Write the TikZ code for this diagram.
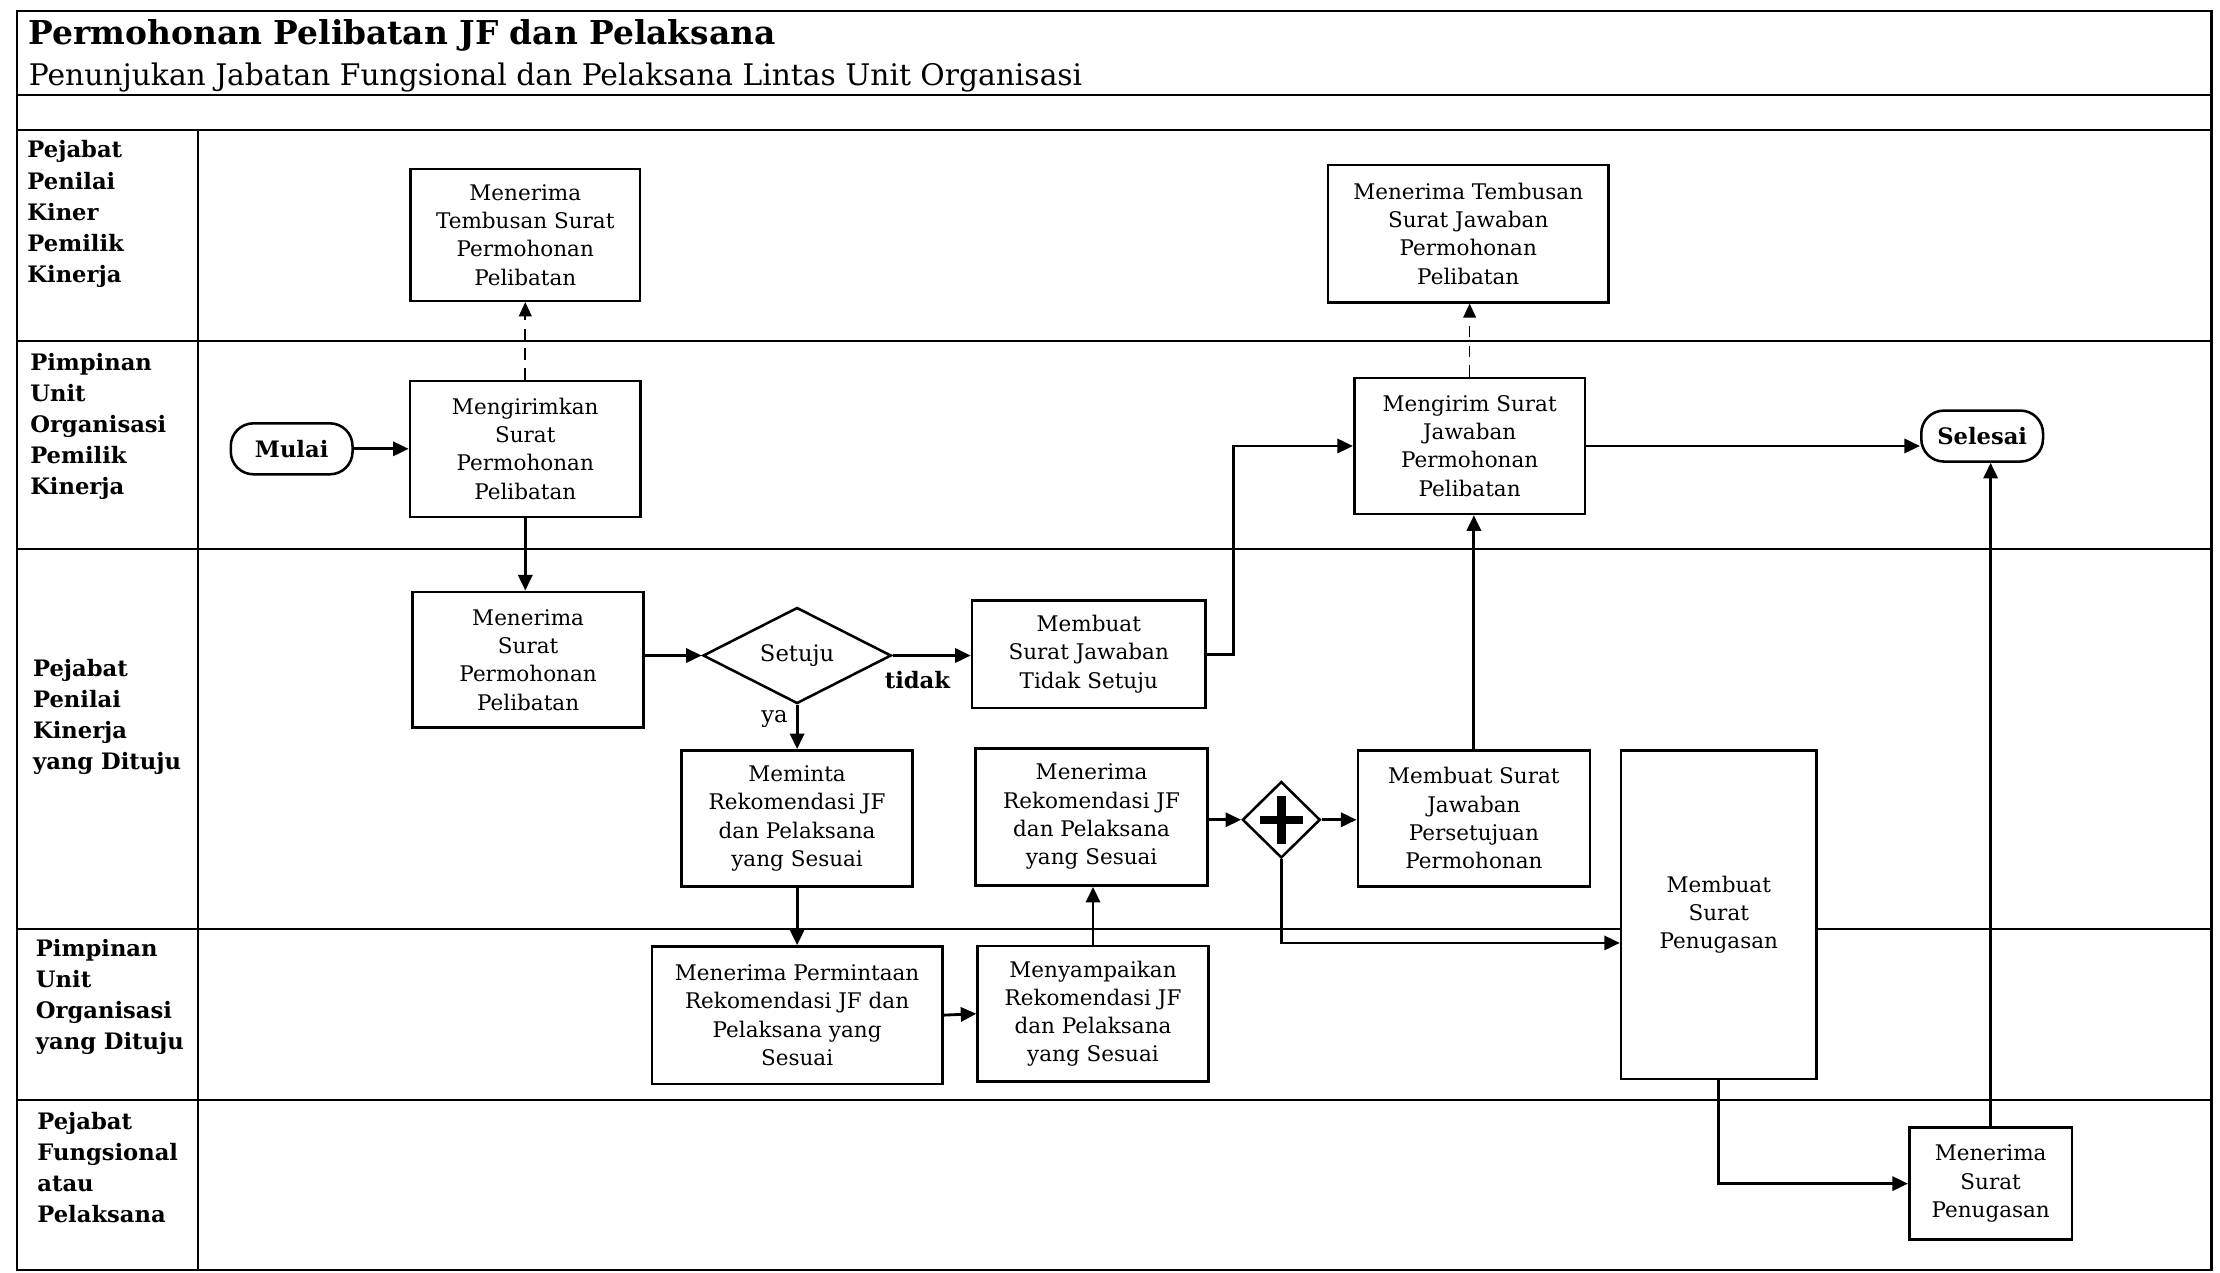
\documentclass[tikz,border=0pt]{standalone}
\usepackage{fontspec}
\setmainfont{DejaVu Serif}
\usetikzlibrary{arrows.meta,shapes.geometric}
\begin{document}
\begin{tikzpicture}[x=0.5pt,y=-0.5pt,
  box/.style={draw,line width=0.9pt,fill=white,align=center,inner sep=1pt,
    font=\fontsize{7.6}{10}\selectfont},
  term/.style={draw,line width=0.9pt,rounded corners=8pt,fill=white,inner sep=1pt,
    font=\fontsize{8}{10}\selectfont\bfseries,minimum width=43pt,minimum height=18pt},
  decide/.style={draw,diamond,line width=0.9pt,fill=white,inner sep=0pt,
    font=\fontsize{8}{10}\selectfont},
  lanelbl/.style={align=left,anchor=north west,inner sep=0pt,
    font=\fontsize{8}{11}\selectfont\bfseries},
  lane/.style={line width=0.8pt},
  arr/.style={line width=1pt,-{Triangle[length=5.5pt,width=5pt]}},
  dasharr/.style={line width=0.6pt,dash pattern=on 4pt off 3pt,-{Triangle[length=5pt,width=4.5pt]}},
  flowlbl/.style={inner sep=0pt,font=\fontsize{8}{10}\selectfont}
]
\useasboundingbox (0,0) rectangle (1568,899);

% frame, title block and swimlanes
\draw[lane] (12,8) rectangle (1562,897);
\node[anchor=west,inner sep=0pt,font=\fontsize{11.6}{13}\selectfont\bfseries] (title) at (20,25)
  {Permohonan Pelibatan JF dan Pelaksana};
\node[anchor=west,inner sep=0pt,font=\fontsize{10.5}{12}\selectfont] (subtitle) at (20,55)
  {Penunjukan Jabatan Fungsional dan Pelaksana Lintas Unit Organisasi};
\draw[lane] (12,67) -- (1562,67);
\draw[lane] (12,92) -- (1562,92);
\foreach \yy in {241,388,656,777} \draw[lane] (12,\yy) -- (1562,\yy);
\draw[lane] (140,92) -- (140,897);

\node[lanelbl] (l1) at (19,99)  {Pejabat\\Penilai\\Kiner\\Pemilik\\Kinerja};
\node[lanelbl] (l2) at (21,249) {Pimpinan\\Unit\\Organisasi\\Pemilik\\Kinerja};
\node[lanelbl] (l3) at (23,465) {Pejabat\\Penilai\\Kinerja\\yang Dituju};
\node[lanelbl] (l4) at (25,663) {Pimpinan\\Unit\\Organisasi\\yang Dituju};
\node[lanelbl] (l5) at (26,785) {Pejabat\\Fungsional\\atau\\Pelaksana};

% process steps
\node[box,minimum width=81pt,minimum height=46.5pt] (a1) at (371,166)
  {Menerima\\Tembusan Surat\\Permohonan\\Pelibatan};
\node[box,minimum width=99pt,minimum height=48.5pt] (a2) at (1037,165)
  {Menerima Tembusan\\Surat Jawaban\\Permohonan\\Pelibatan};
\node[term] (mulai) at (206,317) {Mulai};
\node[box,minimum width=81.5pt,minimum height=48pt] (b1) at (371,317)
  {Mengirimkan\\Surat\\Permohonan\\Pelibatan};
\node[box,minimum width=81.5pt,minimum height=48pt] (b2) at (1038,315)
  {Mengirim Surat\\Jawaban\\Permohonan\\Pelibatan};
\node[term] (selesai) at (1400,308) {Selesai};

\node[box,minimum width=81.5pt,minimum height=48pt] (c1) at (373,466)
  {Menerima\\Surat\\Permohonan\\Pelibatan};
\node[decide,minimum width=66.5pt,minimum height=30pt] (setuju) at (563,463) {Setuju};
\node[box,minimum width=82.5pt,minimum height=38pt] (c2) at (769,462)
  {Membuat\\Surat Jawaban\\Tidak Setuju};
\node[box,minimum width=81.5pt,minimum height=48pt] (c3) at (563,578)
  {Meminta\\Rekomendasi JF\\dan Pelaksana\\yang Sesuai};
\node[box,minimum width=82pt,minimum height=48.5pt] (c4) at (771,577)
  {Menerima\\Rekomendasi JF\\dan Pelaksana\\yang Sesuai};
\node[decide,minimum width=27.5pt,minimum height=27pt] (gw) at (905,579) {};
\draw[line width=3pt] ([yshift=-8.5pt]gw.center) -- ([yshift=8.5pt]gw.center);
\draw[line width=3pt] ([xshift=-7.5pt]gw.center) -- ([xshift=7.5pt]gw.center);
\node[box,minimum width=82pt,minimum height=48pt] (c5) at (1041,578)
  {Membuat Surat\\Jawaban\\Persetujuan\\Permohonan};
\node[box,minimum width=69pt,minimum height=116pt] (big) at (1214,646)
  {Membuat\\Surat\\Penugasan};

\node[box,minimum width=102.5pt,minimum height=48.5pt] (d1) at (563,717)
  {Menerima Permintaan\\Rekomendasi JF dan\\Pelaksana yang\\Sesuai};
\node[box,minimum width=81.5pt,minimum height=48pt] (d2) at (772,716)
  {Menyampaikan\\Rekomendasi JF\\dan Pelaksana\\yang Sesuai};
\node[box,minimum width=57.5pt,minimum height=39.5pt] (e1) at (1406,836)
  {Menerima\\Surat\\Penugasan};

% connectors
\draw[arr] (mulai.east) -- (b1.west);
\draw[dasharr] (b1.north) -- (a1.south);
\draw[arr] (b1.south) -- (b1.south |- c1.north);
\draw[arr] (c1.east |- setuju.west) -- (setuju.west);
\draw[arr] (setuju.east) -- (setuju.east -| c2.west);
\node[flowlbl,font=\fontsize{8}{10}\selectfont\bfseries] (tidak) at (648,480) {tidak};
\draw[arr] (setuju.south) -- (setuju.south |- c3.north);
\node[flowlbl] (ya) at (547,508) {ya};
\draw[arr] (c2.east) -- ++(19,0) |- (b2.west);
\draw[dasharr] (b2.north) -- (b2.north |- a2.south);
\draw[arr] (b2.east) -- (b2.east -| selesai.west);
\draw[arr] (c3.south) -- (c3.south |- d1.north);
\draw[arr] (d1.east) -- (d2.west);
\draw[arr] (d2.north) -- (d2.north |- c4.south);
\draw[arr] (c4.east |- gw.west) -- (gw.west);
\draw[arr] (gw.east) -- (gw.east -| c5.west);
\draw[arr] (c5.north) -- (c5.north |- b2.south);
\coordinate (j1) at (905,666);
\draw[arr] (gw.south) -- (j1) -- (j1 -| big.west);
\draw[arr] (big.south) |- (e1.west);
\draw[arr] (e1.north) -- (e1.north |- selesai.south);
\end{tikzpicture}
\end{document}
